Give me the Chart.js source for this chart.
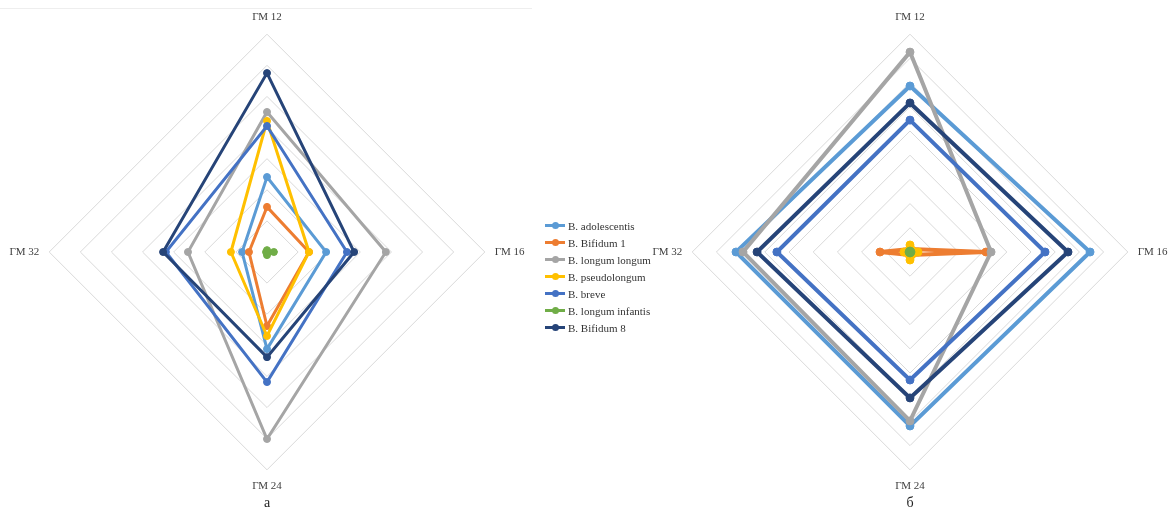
<!DOCTYPE html>
<html>
<head>
<meta charset="utf-8">
<script src="https://cdn.jsdelivr.net/npm/chart.js@4.4.1/dist/chart.umd.min.js"></script>
<style>
  html, body { margin: 0; padding: 0; background: #fff; overflow: hidden; }
  body { width: 1169px; height: 512px; position: relative; }
  canvas { position: absolute; top: 0; }
  #chart-a { left: -33px; }
  #chart-b { left: 610px; }
  #topline { position: absolute; left: 0; top: 8px; width: 532px; border-top: 1px solid #eeeeee; }
  #legend { position: absolute; left: 545px; top: 217px; font: 11px "Liberation Serif", serif; color: #333; z-index: 2; }
  #legend .item { height: 17px; display: flex; align-items: center; white-space: nowrap; }
  #legend .swatch { position: relative; width: 20px; height: 3px; margin-right: 3px; }
  #legend .swatch i { position: absolute; left: 6.5px; top: -2px; width: 7px; height: 7px; border-radius: 50%; }
</style>
</head>
<body>
<div id="topline"></div>
<canvas id="chart-a" width="600" height="512"></canvas>
<canvas id="chart-b" width="600" height="512"></canvas>
<div id="legend"></div>
<script>
const axes = ['ГМ 12', 'ГМ 16', 'ГМ 24', 'ГМ 32'];
const strains = ['B. adolescentis', 'B. Bifidum 1', 'B. longum longum', 'B. pseudolongum', 'B. breve', 'B. longum infantis', 'B. Bifidum 8'];
const colors = ['#5B9BD5', '#ED7D31', '#A5A5A5', '#FFC000', '#4472C4', '#70AD47', '#264478'];

// а: ГМ 12, ГМ 16, ГМ 24, ГМ 32
const adolescentisA = [24.1, 19, 31.2, 8];
const bifidum1A = [14.5, 13.5, 23.8, 5.8];
const longumA = [45, 38.2, 60.1, 25.4];
const pseudolongumA = [42.1, 13.5, 27, 11.6];
const breveA = [40.5, 25.7, 41.8, 32.5];
const infantisA = [0.6, 2.2, 1, 0.3];
const bifidum8A = [57.5, 28, 33.8, 33.4];

// б
const adolescentisB = [68.6, 74.4, 71.9, 71.9];
const bifidum1B = [1.2, 31.4, 1.2, 12.4];
const longumB = [82.6, 33.5, 69.8, 69];
const pseudolongumB = [2.9, 3.3, 3.3, 2.5];
const breveB = [54.5, 55.8, 52.9, 55];
const infantisB = [0.4, 0.4, 0.4, 0.4];
const bifidum8B = [61.6, 65.3, 60.3, 63.2];

const serif = 'Liberation Serif';

function makeRadar(id, caption, series, maxValue, lineWidth, radius) {
    const datasets = series.map((values, i) => ({
        label: strains[i],
        data: values,
        borderColor: colors[i],
        backgroundColor: colors[i],
        pointBackgroundColor: colors[i],
        pointBorderColor: colors[i],
        borderWidth: lineWidth,
        pointRadius: radius,
        pointBorderWidth: 1,
        fill: false,
        order: series.length - i // later series on top
    }));
    return new Chart(document.getElementById(id), {
        type: 'radar',
        data: { labels: axes, datasets: datasets },
        options: {
            responsive: false,
            animation: false,
            layout: { padding: { top: 12, bottom: 0, left: 0, right: 0 } },
            plugins: {
                legend: { display: false },
                tooltip: { enabled: false },
                title: {
                    display: true,
                    text: caption,
                    position: 'bottom',
                    color: '#222',
                    font: { family: serif, size: 14, weight: 'normal' },
                    padding: { top: 1.2, bottom: 0 }
                }
            },
            scales: {
                r: {
                    min: 0,
                    max: maxValue,
                    ticks: { display: false, stepSize: 10 },
                    grid: { color: '#d9d9d9', lineWidth: 1 },
                    angleLines: { display: false },
                    pointLabels: {
                        color: '#404040',
                        padding: 10,
                        font: { family: serif, size: 11 }
                    }
                }
            }
        }
    });
}

makeRadar('chart-a', 'а', [adolescentisA, bifidum1A, longumA, pseudolongumA, breveA, infantisA, bifidum8A], 70, 3, 3.5);
makeRadar('chart-b', 'б', [adolescentisB, bifidum1B, longumB, pseudolongumB, breveB, infantisB, bifidum8B], 90, 4, 4);

// legend between the two panels
const legend = document.getElementById('legend');
strains.forEach((name, i) => {
    const row = document.createElement('div');
    row.className = 'item';
    row.innerHTML = '<span class="swatch" style="background:' + colors[i] + '"><i style="background:' + colors[i] + '"></i></span>' + name;
    legend.appendChild(row);
});
</script>
</body>
</html>
